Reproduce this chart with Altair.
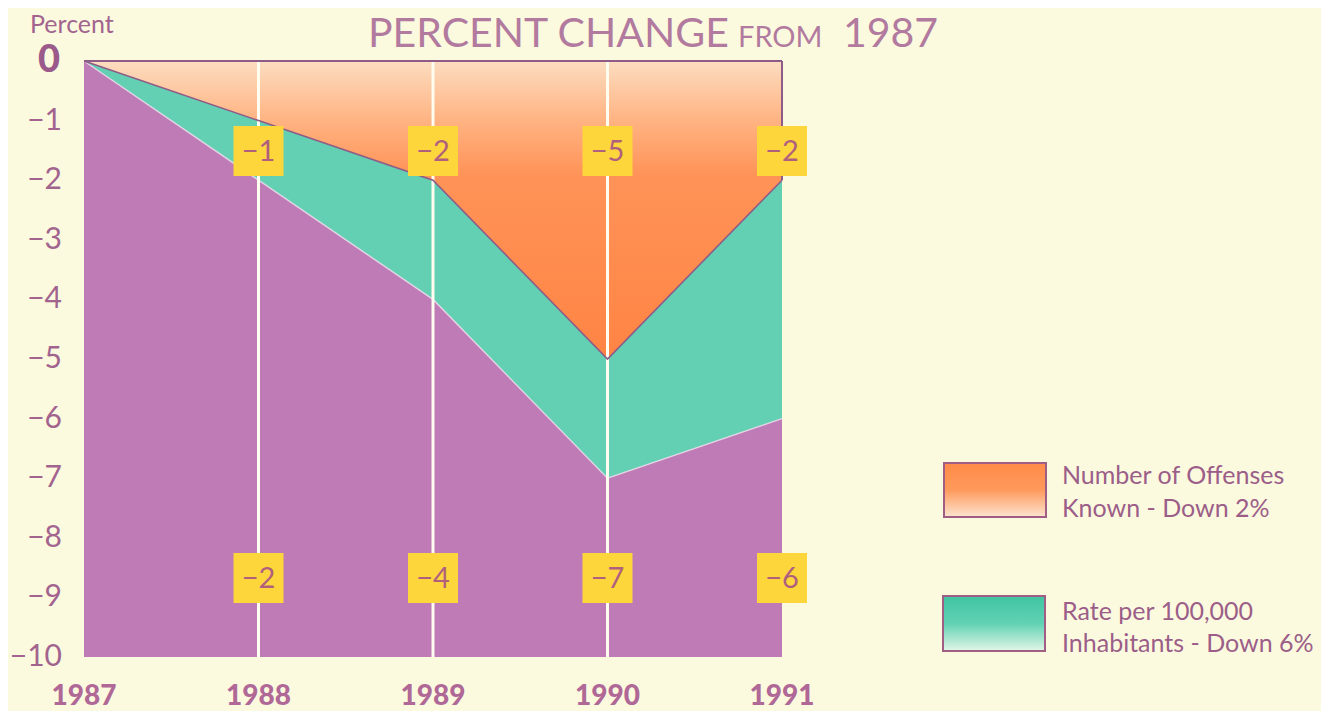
import altair as alt
import pandas as pd

# ---- data ----
years = [1987, 1988, 1989, 1990, 1991]
offenses = [0, -1, -2, -5, -2]
rate = [0, -2, -4, -7, -6]
offense_labels = ["", "−1", "−2", "−5", "−2"]
rate_labels = ["", "−2", "−4", "−7", "−6"]
grid_years = [1988, 1989, 1990]
y_ticks = [-1, -2, -3, -4, -5, -6, -7, -8, -9, -10]
y_tick_labels = ["−1", "−2", "−3", "−4", "−5", "−6", "−7", "−8", "−9", "−10"]
x_tick_labels = ["1987", "1988", "1989", "1990", "1991"]
legend_offense = ["Number of Offenses", "Known - Down 2%"]
legend_rate = ["Rate per 100,000", "Inhabitants - Down 6%"]

FONT = "Lato"
TEXT = "#A2648E"
BG = "#FBFADF"

df = pd.DataFrame({"year": years, "offense": offenses, "rate": rate,
                   "olab": offense_labels, "rlab": rate_labels,
                   "xlab": x_tick_labels})
df["zero"] = 0
df["floor"] = -10
lab = df[df["olab"] != ""]

X = alt.Scale(domain=[1987, 1991], range=[76, 774], nice=False, zero=False)
Y = alt.Scale(domain=[-10, 0], range=[649, 53], nice=False, zero=False)

def xe(f):
    return alt.X(f, type="quantitative", scale=X, axis=None)

def ye(f):
    return alt.Y(f, type="quantitative", scale=Y, axis=None)

base = alt.Chart(df)

orange_grad = alt.Gradient(
    gradient="linear", x1=0, x2=0, y1=0, y2=1,
    stops=[alt.GradientStop(color="#FCDDC0", offset=0),
           alt.GradientStop(color="#FFB382", offset=0.2),
           alt.GradientStop(color="#FF9358", offset=0.38),
           alt.GradientStop(color="#FF8444", offset=1)])

orange = base.mark_area(color=orange_grad).encode(x=xe("year"), y=ye("offense"), y2="zero")
teal = base.mark_area(color="#63D0B3").encode(x=xe("year"), y=ye("rate"), y2="offense")
purple = base.mark_area(color="#BF7BB6").encode(x=xe("year"), y=ye("floor"), y2="rate")

rate_edge = base.mark_line(color="#EFDDEE", strokeWidth=1.5, opacity=0.8).encode(
    x=xe("year"), y=ye("rate"))

grid_df = pd.DataFrame({"year": grid_years, "top": 0, "bottom": -10})
grid = alt.Chart(grid_df).mark_rule(color="#FFFCF0", strokeWidth=3).encode(
    x=xe("year"), y=ye("top"), y2="bottom")

off_line = base.mark_line(color="#8E5C86", strokeWidth=1.6).encode(x=xe("year"), y=ye("offense"))

top_df = pd.DataFrame({"a": [1987], "b": [1991], "v": [0]})
top_rule = alt.Chart(top_df).mark_rule(color="#8E5C86", strokeWidth=2).encode(
    x=xe("a"), x2="b", y=ye("v"))
right_df = pd.DataFrame({"a": [1991], "v": [0], "w": [offenses[-1]]})
right_rule = alt.Chart(right_df).mark_rule(color="#8E5C86", strokeWidth=2).encode(
    x=xe("a"), y=ye("v"), y2="w")

lab_base = alt.Chart(lab)
box_top = lab_base.mark_square(size=2500, color="#FDD63C", opacity=1).encode(
    x=xe("year"), y=alt.value(143))
box_bot = lab_base.mark_square(size=2500, color="#FDD63C", opacity=1).encode(
    x=xe("year"), y=alt.value(570))
txt_top = lab_base.mark_text(font=FONT, fontSize=29, color="#B0607C").encode(
    x=xe("year"), y=alt.value(144), text="olab")
txt_bot = lab_base.mark_text(font=FONT, fontSize=29, color="#B0607C").encode(
    x=xe("year"), y=alt.value(571), text="rlab")

# axes drawn as text
yt_df = pd.DataFrame({"v": y_ticks, "t": y_tick_labels})
ytext = alt.Chart(yt_df).mark_text(font=FONT, fontSize=30, color=TEXT, align="right",
                                   baseline="middle").encode(
    y=ye("v"), x=alt.value(54), text="t")
zero_df = pd.DataFrame({"v": [0], "t": ["0"]})
zero_txt = alt.Chart(zero_df).mark_text(font=FONT, fontSize=38, fontWeight=900, color="#9A5A8A",
                                        align="right", baseline="middle").encode(
    y=ye("v"), x=alt.value(52), text="t")
xtext = base.mark_text(font=FONT, fontSize=28, fontWeight=900, color="#B06896",
                       baseline="middle").encode(
    x=xe("year"), y=alt.value(689), text="xlab")

one = pd.DataFrame({"k": [0]})
oc = alt.Chart(one)
percent = oc.mark_text(font=FONT, fontSize=25, color=TEXT, align="left",
                       baseline="alphabetic", text="Percent").encode(
    x=alt.value(22), y=alt.value(25))

tcol = "#B27A9E"
t1 = oc.mark_text(font=FONT, fontSize=41, color=tcol, align="left", baseline="alphabetic",
                  text="PERCENT CHANGE").encode(x=alt.value(360), y=alt.value(39))
t2 = oc.mark_text(font=FONT, fontSize=29, color=tcol, align="left", baseline="alphabetic",
                  text="FROM").encode(x=alt.value(730), y=alt.value(39))
t3 = oc.mark_text(font=FONT, fontSize=41, color=tcol, align="left", baseline="alphabetic",
                  text="1987").encode(x=alt.value(835), y=alt.value(39))

# legend
leg_orange = alt.Gradient(
    gradient="linear", x1=0, x2=0, y1=0, y2=1,
    stops=[alt.GradientStop(color="#FF8A48", offset=0),
           alt.GradientStop(color="#FF9A5C", offset=0.5),
           alt.GradientStop(color="#FCE4D0", offset=1)])
leg_teal = alt.Gradient(
    gradient="linear", x1=0, x2=0, y1=0, y2=1,
    stops=[alt.GradientStop(color="#3FC4A2", offset=0),
           alt.GradientStop(color="#62D2B4", offset=0.5),
           alt.GradientStop(color="#E2F6E6", offset=1)])
lbox1 = oc.mark_rect(color=leg_orange, stroke="#A05E84", strokeWidth=2).encode(
    x=alt.value(936), x2=alt.value(1038), y=alt.value(455), y2=alt.value(509))
lbox2 = oc.mark_rect(color=leg_teal, stroke="#A05E84", strokeWidth=2).encode(
    x=alt.value(935), x2=alt.value(1037), y=alt.value(588), y2=alt.value(643))

legend_texts = []
for lines, ys in ((legend_offense, (476, 509)), (legend_rate, (612, 644))):
    for line, yy in zip(lines, ys):
        legend_texts.append(oc.mark_text(font=FONT, fontSize=25, color="#9C5E88", align="left",
                                         baseline="alphabetic", text=line).encode(
            x=alt.value(1054), y=alt.value(yy)))

chart = alt.layer(
    orange, teal, purple, rate_edge, grid, off_line, top_rule, right_rule,
    box_top, box_bot, txt_top, txt_bot, ytext, zero_txt, xtext, percent, t1, t2, t3,
    lbox1, lbox2, *legend_texts
).properties(
    width=1313, height=703, padding=0, autosize=alt.AutoSizeParams(type="none"),
    background=BG
).configure_view(stroke=None)

chart.save("out.html", embed_options={"renderer": "svg", "actions": False})
